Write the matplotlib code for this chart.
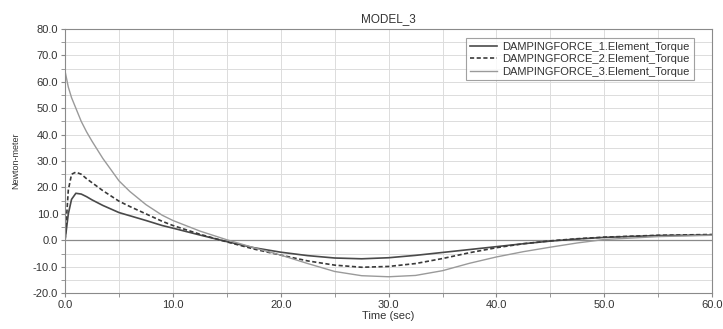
import matplotlib.pyplot as plt
from matplotlib.ticker import MultipleLocator

plt.rcParams['font.family'] = ['Liberation Sans', 'DejaVu Sans']

# values
time = [0, 0.3, 0.6, 1.0, 1.5, 2.0, 2.5, 3.5, 5, 6, 7.5, 9, 10, 12.5, 15, 17.5,
        20, 22.5, 25, 27.5, 30, 32.5, 35, 37.5, 40, 42.5, 45, 47.5, 50, 55, 60]
torque_1 = [0, 10, 15.5, 17.8, 17.5, 16.5, 15.3, 13.2, 10.5, 9.3, 7.5, 5.6, 4.6, 2.0, -0.5, -2.8,
            -4.5, -5.8, -6.7, -7.0, -6.6, -5.7, -4.6, -3.5, -2.4, -1.3, -0.3, 0.5, 1.1, 1.8, 2.0]
torque_2 = [0, 19, 25, 25.8, 25, 23.3, 21.8, 18.8, 14.8, 12.8, 10.0, 7.2, 5.6, 2.3, -0.6, -3.3,
            -5.6, -7.8, -9.4, -10.2, -9.9, -8.8, -6.9, -4.7, -2.8, -1.3, -0.2, 0.6, 1.2, 1.9, 2.2]
torque_3 = [64, 58, 54, 50, 45, 41, 37.5, 31, 22.5, 18.5, 13.5, 9.5, 7.5, 3.5, 0.2, -2.8,
            -5.6, -8.8, -11.8, -13.4, -13.8, -13.3, -11.5, -8.7, -6.3, -4.3, -2.6, -1.0, 0.3, 1.4, 1.9]
labels = ['DAMPINGFORCE_1.Element_Torque',
          'DAMPINGFORCE_2.Element_Torque',
          'DAMPINGFORCE_3.Element_Torque']

fig = plt.figure(figsize=(7.23, 3.29), dpi=100)
ax = fig.add_axes([0.090, 0.109, 0.895, 0.803])

ax.plot(time, torque_1, color='#4a4a4a', lw=1.2, label=labels[0])
ax.plot(time, torque_2, color='#3a3a3a', lw=1.2, ls=(0, (2.5, 1.5)), label=labels[1])
ax.plot(time, torque_3, color='#9a9a9a', lw=1.0, label=labels[2])
ax.axhline(0, color='#8a8a8a', lw=0.9, zorder=1)

ax.set_xlim(0, 60)
ax.set_ylim(-20, 80)
ax.xaxis.set_major_locator(MultipleLocator(10))
ax.xaxis.set_minor_locator(MultipleLocator(5))
ax.yaxis.set_major_locator(MultipleLocator(10))
ax.yaxis.set_minor_locator(MultipleLocator(5))
ax.xaxis.set_major_formatter(lambda v, p: f'{v:.1f}')
ax.yaxis.set_major_formatter(lambda v, p: f'{v:.1f}')
ax.grid(which='both', color='#dcdcdc', lw=0.7)
ax.set_axisbelow(True)
ax.tick_params(which='both', labelsize=8, color='#888888', labelcolor='#333333', length=3, pad=2)
for s in ax.spines.values():
    s.set_color('#8a8a8a')

ax.set_title('MODEL_3', fontsize=8.5, color='#333333', pad=5)
ax.set_xlabel('Time (sec)', fontsize=8, color='#333333', labelpad=1)
ax.set_ylabel('Newton-meter', fontsize=6.5, color='#333333', labelpad=9)

leg = ax.legend(loc='upper right', bbox_to_anchor=(0.98, 0.986), fontsize=8, frameon=True,
                fancybox=False, handlelength=2.4, handletextpad=0.5, borderpad=0.35,
                labelspacing=0.2, edgecolor='#8a8a8a')
leg.get_frame().set_linewidth(0.8)
for t in leg.get_texts():
    t.set_color('#333333')

fig.savefig('out.png', dpi=100)
